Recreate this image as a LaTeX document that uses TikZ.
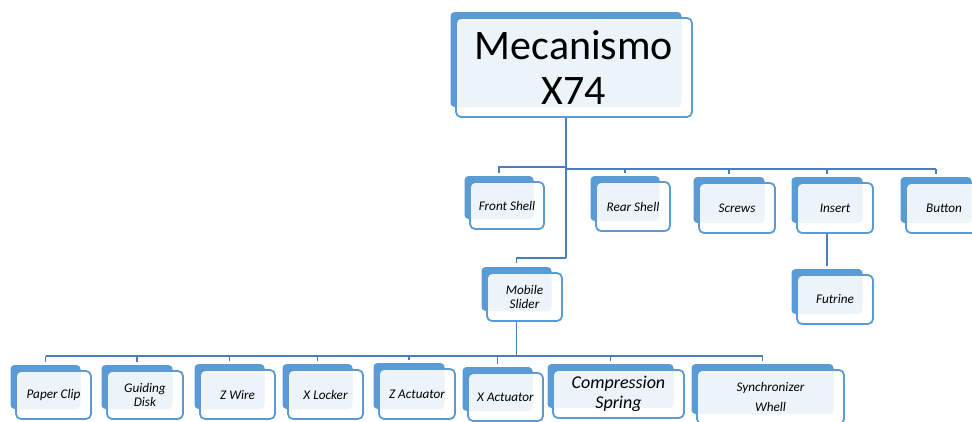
\documentclass[tikz,border=0pt]{standalone}
\usepackage{fontspec}
\setmainfont{Carlito}
\begin{document}
\definecolor{boxblue}{RGB}{91,155,213}
\definecolor{linkblue}{RGB}{74,126,187}
\tikzset{
  backbox/.style={fill=boxblue, rounded corners=4pt, inner sep=0pt, draw=none},
  frontbox/.style={draw=boxblue, line width=1.8pt, rounded corners=5pt, fill=white,
    fill opacity=0.89, text opacity=1, inner sep=0pt, align=center,
    font=\fontsize{13.2}{14.5}\selectfont\itshape},
  conn/.style={draw=linkblue, line width=1.8pt},
  trunk/.style={draw=linkblue, line width=2.6pt},
  drop/.style={conn, shorten >=3pt},
}
% #1 extra options, #2 name, #3,#4 centre of the front card, #5 width, #6 height, #7 label
\newcommand\partbox[7][]{%
  \node[backbox, minimum width={(#5-5)*1pt}, minimum height={(#6-4)*1pt}] (#2b) at ({#3-8},{#4-8}) {};
  \node[frontbox, minimum width={#5*1pt}, minimum height={#6*1pt}, #1] (#2) at (#3,#4) {#7};
}
\begin{tikzpicture}[x=1pt, y=-1pt]
\useasboundingbox (0,0) rectangle (972,421);
\clip (0,0) rectangle (972,421);

% root
\partbox[font=\fontsize{42}{45}\selectfont]{main}{574}{67.5}{236}{99}{Mecanismo\\X74}

% first level
\partbox{front}{507}{205.5}{74}{47}{Front Shell}
\partbox{rear}{633}{206.5}{74}{49}{Rear Shell}
\partbox{screws}{737}{208}{76}{50}{Screws}
\partbox{insert}{835}{208}{76}{50}{Insert}
\partbox{button}{944}{208}{76}{50}{Button}
\partbox{futrine}{835}{299.5}{76}{49}{Futrine}
\partbox{mobile}{524.5}{297}{75}{48}{Mobile\\Slider}

% second level
\partbox{paper}{53.5}{395}{75}{48}{Paper Clip}
\partbox{guiding}{145}{395}{76}{48}{Guiding\\Disk}
\partbox{zwire}{237.5}{394.5}{75}{49}{Z Wire}
\partbox{xlocker}{325.5}{394.5}{75}{49}{X Locker}
\partbox{zact}{417}{394}{76}{50}{Z Actuator}
\partbox{xact}{505.5}{397}{75}{48}{X Actuator}
\partbox[font=\fontsize{18}{20}\selectfont\itshape]{comp}{618.5}{394}{131}{48}{Compression\\Spring}
\partbox[font=\fontsize{13.2}{20}\selectfont\itshape]{sync}{770.5}{397}{147}{54}{Synchronizer\\Whell}

% bus lines
\coordinate (busL) at (0,167);
\coordinate (busR) at (0,169);
\coordinate (turn) at (0,258);
\coordinate (busB) at (0,356);

% trunk from the root down to the mobile slider
\draw[trunk] (mainb.south |- main.south) -- (mainb.south |- turn);
\draw[conn, shorten >=4pt] (mainb.south |- turn) -| (mobileb.north);

% first level branches
\draw[conn] (mainb.south |- busL) -| ([yshift=3pt]frontb.north);
\draw[trunk] (mainb.south |- busR) -- (buttonb.north |- busR);
\draw[drop] (rearb.north |- busR) -- (rearb.north);
\draw[drop] (screwsb.north |- busR) -- (screwsb.north);
\draw[drop] (insertb.north |- busR) -- (insertb.north);
\draw[drop] (buttonb.north |- busR) -- (buttonb.north);
\draw[conn, shorten >=3pt] (insertb.south |- insert.south) -- (futrineb.north);

% second level branches
\draw[conn] (mobileb.south |- mobile.south) -- (mobileb.south |- busB);
\draw[conn] (paperb.north |- busB) -- (syncb.north |- busB);
\foreach \n in {paper,guiding,zwire,xlocker,zact,xact,comp,sync}
  \draw[drop] (\n b.north |- busB) -- (\n b.north);
\end{tikzpicture}
\end{document}
